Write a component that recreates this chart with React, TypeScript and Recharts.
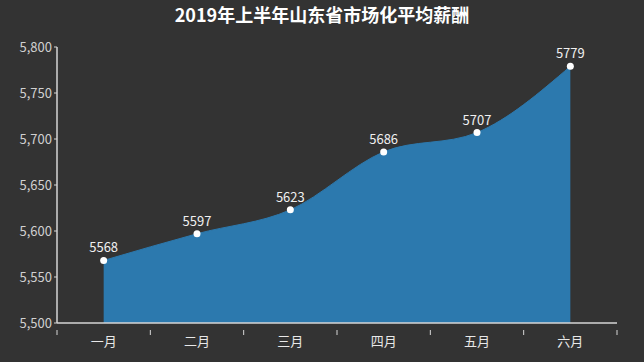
import React from "react";
import { AreaChart, Area, XAxis, YAxis, LabelList } from "recharts";

const months = ["一月", "二月", "三月", "四月", "五月", "六月"];
const salary = [5568, 5597, 5623, 5686, 5707, 5779];
const yTicks = [5500, 5550, 5600, 5650, 5700, 5750, 5800];
// band boundaries + band centres on a numeric index axis
const xTicks = [-0.5, 0, 0.5, 1, 1.5, 2, 2.5, 3, 3.5, 4, 4.5, 5, 5.5];

const data = months.map((m, i) => ({ i, month: m, value: salary[i] }));

const font = '"Noto Sans CJK SC", "Noto Sans", sans-serif';
const axisColor = "#d6d6d6";
const fillColor = "#2c79ae";

const XTick = (props: any) => {
  const { x, y, payload } = props;
  const v = payload.value;
  if (!Number.isInteger(v)) {
    return <line x1={x} y1={y - 1} x2={x} y2={y + 4} stroke={axisColor} strokeWidth={1} />;
  }
  return (
    <text x={x} y={y + 15} textAnchor="middle" fill="#e8e8e8" fontSize={13} fontFamily={font}>
      {months[v]}
    </text>
  );
};

const App = () => {
  return (
    <div
      style={{
        position: "fixed",
        left: 0,
        top: 0,
        width: 644,
        height: 362,
        background: "#333333",
      }}
    >
      <div
        style={{
          position: "absolute",
          top: 1,
          left: 0,
          width: 644,
          textAlign: "center",
          color: "#ffffff",
          fontFamily: font,
          fontWeight: "bold",
          fontSize: 18,
        }}
      >
        2019年上半年山东省市场化平均薪酬
      </div>
      <AreaChart
        width={644}
        height={362}
        data={data}
        margin={{ top: 47, right: 27, bottom: 9, left: 7 }}
      >
        <XAxis
          dataKey="i"
          type="number"
          height={30}
          domain={[-0.5, 5.5]}
          ticks={xTicks}
          interval={0}
          tickLine={false}
          tick={<XTick />}
          axisLine={{ stroke: axisColor, strokeWidth: 1.5 }}
          allowDecimals
        />
        <YAxis
          width={50}
          domain={[5500, 5800]}
          ticks={yTicks}
          interval={0}
          tickFormatter={(v: number) => v.toLocaleString("en-US")}
          tick={{ fill: "#d0d0d0", fontSize: 13, fontFamily: font }}
          tickSize={3}
          tickLine={{ stroke: axisColor }}
          axisLine={{ stroke: axisColor, strokeWidth: 1.5 }}
        />
        <Area
          type="monotone"
          dataKey="value"
          stroke={fillColor}
          strokeWidth={1}
          fill={fillColor}
          fillOpacity={1}
          baseValue={5500}
          dot={{ r: 3.5, fill: "#ffffff", stroke: "#ffffff", strokeWidth: 0 }}
          activeDot={false}
          isAnimationActive={false}
        >
          <LabelList
            dataKey="value"
            position="top"
            offset={8}
            fill="#f0f0f0"
            fontSize={13}
            fontFamily={font}
          />
        </Area>
      </AreaChart>
    </div>
  );
};

export default App;
